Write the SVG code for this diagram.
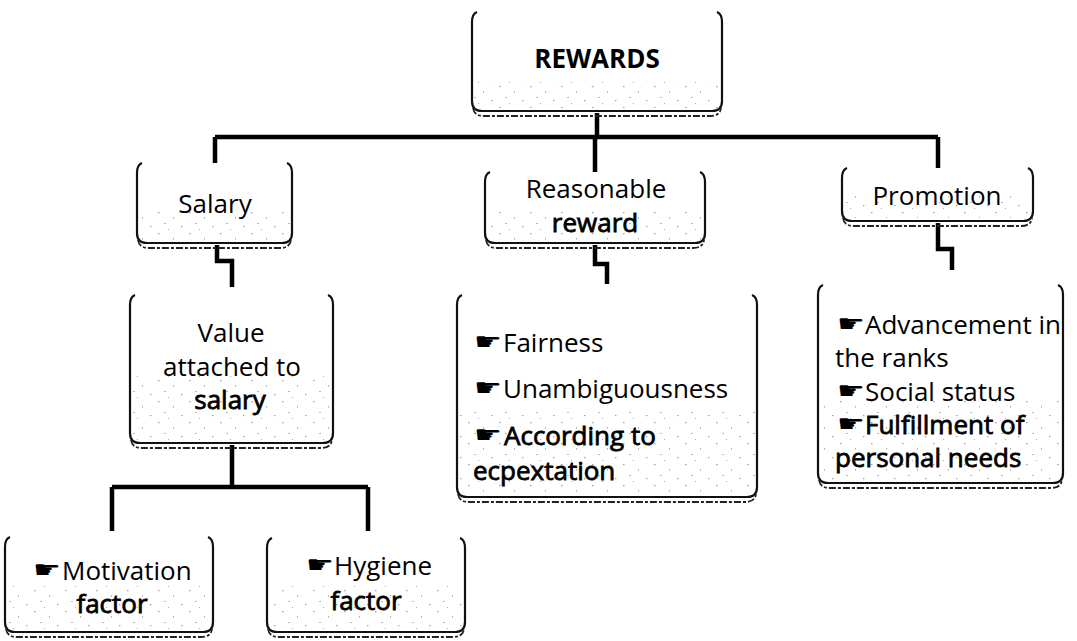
<svg xmlns="http://www.w3.org/2000/svg" width="1077" height="641" viewBox="0 0 1077 641">
  <style>
    .edge { fill: none; stroke: #111; stroke-width: 2.2; }
    .shadow { fill: none; stroke: #222; stroke-width: 1.8; stroke-dasharray: 7 2 3 2; }
    .band { fill: url(#grain); opacity: 0.7; }
    .link { fill: none; stroke: #000; stroke-width: 4.5; stroke-linejoin: miter; stroke-linecap: butt; }
    .t { font-family: "Open Sans", "Liberation Sans", sans-serif; font-size: 26px; fill: #000; }
    .c { text-anchor: middle; }
    .dark { stroke: #000; stroke-width: 0.8; }
    .bold { font-weight: bold; }
    .pt { font-family: "DejaVu Sans", sans-serif; font-size: 24px; fill: #000; }
  </style>
  <defs>
    <!-- fine scattered grain for the lower part of each box -->
    <pattern id="grain" width="31" height="21" patternUnits="userSpaceOnUse">
      <rect x="3" y="2" width="1.5" height="1.2" fill="#777"/>
      <rect x="18" y="7" width="1" height="1.6" fill="#888"/>
      <rect x="9" y="13" width="2" height="1" fill="#999"/>
      <rect x="26" y="16" width="1.4" height="1.2" fill="#777"/>
      <rect x="13" y="19" width="1" height="1" fill="#888"/>
    </pattern>
  </defs>
  <rect width="1077" height="641" fill="#fff"/>

  <!-- connectors -->
  <g id="connectors">
    <path class="link" d="M597,113 V137"/>
    <path class="link" d="M215,137 H938"/>
    <path class="link" d="M215,137 V163"/>
    <path class="link" d="M595,137 V172"/>
    <path class="link" d="M938,137 V168"/>
    <path class="link" d="M217,245 V261 H232 V287"/>
    <path class="link" d="M595,245 V264 H607 V284"/>
    <path class="link" d="M938,223 V249 H952 V270"/>
    <path class="link" d="M232,445 V487"/>
    <path class="link" d="M112,487 H368"/>
    <path class="link" d="M112,487 V531"/>
    <path class="link" d="M368,487 V531"/>
  </g>

  <g id="rewards">
    <rect class="band" x="474" y="80" width="246" height="28"/>
    <path class="edge" d="M477,12 Q472,14 472,22 V101 Q472,111 482,111 H712 Q722,111 722,101 V22 Q722,14 717,12"/>
    <path class="shadow" d="M473,108 Q474,116 484,116 H710 Q720,116 721,108"/>
    <text class="t c bold" x="597" y="68">REWARDS</text>
  </g>

  <g id="salary">
    <rect class="band" x="139" y="210" width="151" height="30"/>
    <path class="edge" d="M142,163 Q137,165 137,173 V233 Q137,243 147,243 H282 Q292,243 292,233 V173 Q292,165 287,163"/>
    <path class="shadow" d="M138,240 Q139,248 149,248 H280 Q290,248 291,240"/>
    <text class="t c" x="215" y="213">Salary</text>
  </g>

  <g id="reasonable">
    <rect class="band" x="487" y="210" width="216" height="30"/>
    <path class="edge" d="M490,172 Q485,174 485,182 V233 Q485,243 495,243 H695 Q705,243 705,233 V182 Q705,174 700,172"/>
    <path class="shadow" d="M486,240 Q487,248 497,248 H693 Q703,248 704,240"/>
    <text class="t c" x="596" y="198">Reasonable</text>
    <text class="t c dark" x="595" y="232">reward</text>
  </g>

  <g id="promotion">
    <rect class="band" x="844" y="192" width="187" height="26"/>
    <path class="edge" d="M847,168 Q842,170 842,178 V211 Q842,221 852,221 H1023 Q1033,221 1033,211 V178 Q1033,170 1028,168"/>
    <path class="shadow" d="M843,218 Q844,226 854,226 H1021 Q1031,226 1032,218"/>
    <text class="t c" x="937" y="205">Promotion</text>
  </g>

  <g id="value">
    <rect class="band" x="132" y="375" width="199" height="65"/>
    <path class="edge" d="M135,295 Q130,297 130,305 V433 Q130,443 140,443 H323 Q333,443 333,433 V305 Q333,297 328,295"/>
    <path class="shadow" d="M131,440 Q132,448 142,448 H321 Q331,448 332,440"/>
    <text class="t c" x="231" y="342">Value</text>
    <text class="t c" x="232" y="376">attached to</text>
    <text class="t c dark" x="230" y="409">salary</text>
  </g>

  <g id="reasonable-points">
    <rect class="band" x="459" y="410" width="296" height="84"/>
    <path class="edge" d="M462,295 Q457,297 457,305 V487 Q457,497 467,497 H747 Q757,497 757,487 V305 Q757,297 752,295"/>
    <path class="shadow" d="M458,494 Q459,502 469,502 H745 Q755,502 756,494"/>
    <text class="pt" transform="translate(474,350) scale(1.3,1)">☛</text>
    <text class="t" x="503" y="352">Fairness</text>
    <text class="pt" transform="translate(474,396) scale(1.3,1)">☛</text>
    <text class="t" x="503" y="398">Unambiguousness</text>
    <text class="pt" transform="translate(474,443) scale(1.3,1)">☛</text>
    <text class="t dark" x="504" y="445">According to</text>
    <text class="t dark" x="473" y="480">ecpextation</text>
  </g>

  <g id="promotion-points">
    <rect class="band" x="820" y="400" width="241" height="80"/>
    <path class="edge" d="M823,285 Q818,287 818,295 V473 Q818,483 828,483 H1053 Q1063,483 1063,473 V295 Q1063,287 1058,285"/>
    <path class="shadow" d="M819,480 Q820,488 830,488 H1051 Q1061,488 1062,480"/>
    <text class="pt" transform="translate(837,332) scale(1.3,1)">☛</text>
    <text class="t" x="865" y="334">Advancement in</text>
    <text class="t" x="835" y="367">the ranks</text>
    <text class="pt" transform="translate(837,399) scale(1.3,1)">☛</text>
    <text class="t" x="865" y="401">Social status</text>
    <text class="pt" transform="translate(837,432) scale(1.3,1)">☛</text>
    <text class="t dark" x="865" y="434">Fulfillment of</text>
    <text class="t dark" x="835" y="467">personal needs</text>
  </g>

  <g id="motivation">
    <rect class="band" x="7" y="585" width="204" height="44"/>
    <path class="edge" d="M10,537 Q5,539 5,547 V622 Q5,632 15,632 H203 Q213,632 213,622 V547 Q213,539 208,537"/>
    <path class="shadow" d="M6,629 Q7,637 17,637 H201 Q211,637 212,629"/>
    <text class="pt" transform="translate(33,578) scale(1.3,1)">☛</text>
    <text class="t" x="62" y="580">Motivation</text>
    <text class="t c dark" x="112" y="613">factor</text>
  </g>

  <g id="hygiene">
    <rect class="band" x="269" y="585" width="194" height="44"/>
    <path class="edge" d="M272,538 Q267,540 267,548 V622 Q267,632 277,632 H455 Q465,632 465,622 V548 Q465,540 460,538"/>
    <path class="shadow" d="M268,629 Q269,637 279,637 H453 Q463,637 464,629"/>
    <text class="pt" transform="translate(306,573) scale(1.3,1)">☛</text>
    <text class="t" x="334" y="575">Hygiene</text>
    <text class="t c dark" x="366" y="610">factor</text>
  </g>
</svg>
